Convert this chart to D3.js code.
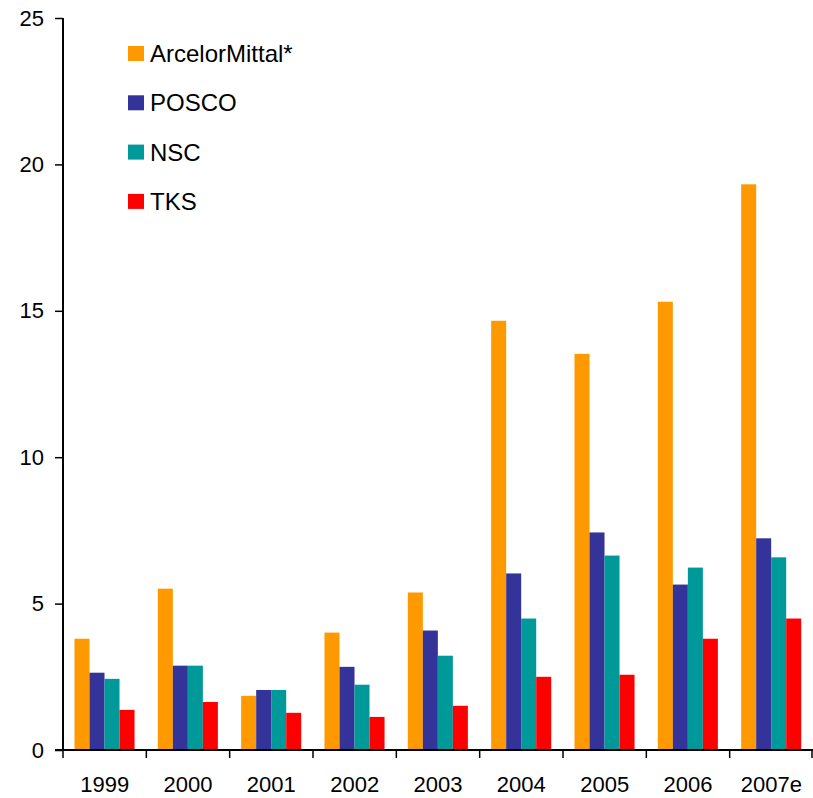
<!DOCTYPE html>
<html><head><meta charset="utf-8">
<script src="https://cdn.jsdelivr.net/npm/d3@7"></script>
<style>body{margin:0;background:#fff}svg{display:block}text{font-family:"Liberation Sans",Arial,sans-serif}</style>
</head><body><svg id="c" width="813" height="798"></svg>
<script>
const categories = ["1999","2000","2001","2002","2003","2004","2005","2006","2007e"];
const seriesNames = ["ArcelorMittal*","POSCO","NSC","TKS"];
const arcelorMittal = [3.80,5.51,1.85,4.01,5.38,14.66,13.53,15.31,19.32];
const posco = [2.64,2.88,2.05,2.84,4.08,6.03,7.43,5.65,7.23];
const nsc = [2.43,2.88,2.05,2.23,3.22,4.49,6.64,6.23,6.58];
const tks = [1.37,1.64,1.27,1.13,1.51,2.50,2.57,3.80,4.49];
const yTicks = [0,5,10,15,20,25];
const colors = ["#FF9900","#333399","#009999","#FF0000"];
const seriesValues = [arcelorMittal, posco, nsc, tks];

const svg = d3.select("#c");
const mLeft = 63, mRight = 813, mTop = 18, mBottom = 750;
const FONT = "Liberation Sans, Arial, sans-serif";
const x = d3.scaleBand().domain(categories).range([mLeft, mRight]).paddingInner(0).paddingOuter(0);
const inner = d3.scaleBand().domain(seriesNames).range([11.5, x.bandwidth()-11.8]).padding(0);
const y = d3.scaleLinear().domain([0,25]).range([mBottom, mTop]);

const data = categories.map((c,i)=>({cat:c, vals: seriesNames.map((s,j)=>({s, v: seriesValues[j][i], j}))}));
const g = svg.append("g");
g.selectAll("g.grp").data(data).join("g").attr("class","grp")
  .attr("transform", d=>`translate(${x(d.cat)},0)`)
  .selectAll("rect").data(d=>d.vals).join("rect")
  .attr("x", d=>inner(d.s)).attr("width", inner.bandwidth())
  .attr("y", d=>y(d.v)).attr("height", d=>mBottom - y(d.v))
  .attr("fill", d=>colors[d.j]);

// Y axis
const yAxis = svg.append("g").attr("transform",`translate(${mLeft},0)`)
  .call(d3.axisLeft(y).tickValues(yTicks).tickSize(8).tickPadding(11).tickFormat(d3.format("d")));
yAxis.attr("font-family", FONT);
yAxis.select(".domain").attr("stroke","#000").attr("stroke-width",2).attr("d",`M0,${mTop}V${mBottom}`);
yAxis.selectAll(".tick line").attr("stroke","#000").attr("stroke-width",1.5);
yAxis.selectAll("text").attr("font-size",22).attr("fill","#000");

// X axis
const xAxis = svg.append("g").attr("transform",`translate(0,${mBottom})`)
  .call(d3.axisBottom(x).tickSize(0).tickPadding(26));
xAxis.attr("font-family", FONT);
xAxis.select(".domain").attr("stroke","#000").attr("stroke-width",2).attr("d",`M${mLeft-8},0H${mRight}`);
xAxis.selectAll("text").attr("font-size",22).attr("fill","#000");
const boundaries = categories.map(c=>x(c)).concat([x(categories[categories.length-1])+x.bandwidth()-1]);
svg.append("g").selectAll("line").data(boundaries).join("line")
  .attr("x1",d=>d).attr("x2",d=>d).attr("y1",mBottom).attr("y2",mBottom+8)
  .attr("stroke","#000").attr("stroke-width",1.5);

// Legend
const leg = svg.append("g").attr("font-family", FONT).selectAll("g").data(seriesNames).join("g")
  .attr("transform",(d,i)=>`translate(128,${53.5 + i*49.3})`);
leg.append("rect").attr("x",0).attr("y",-7.5).attr("width",16).attr("height",15).attr("fill",(d,i)=>colors[i]);
leg.append("text").attr("x",22).attr("y",8.5).attr("font-size",24).attr("fill","#000").text(d=>d);
</script></body></html>
